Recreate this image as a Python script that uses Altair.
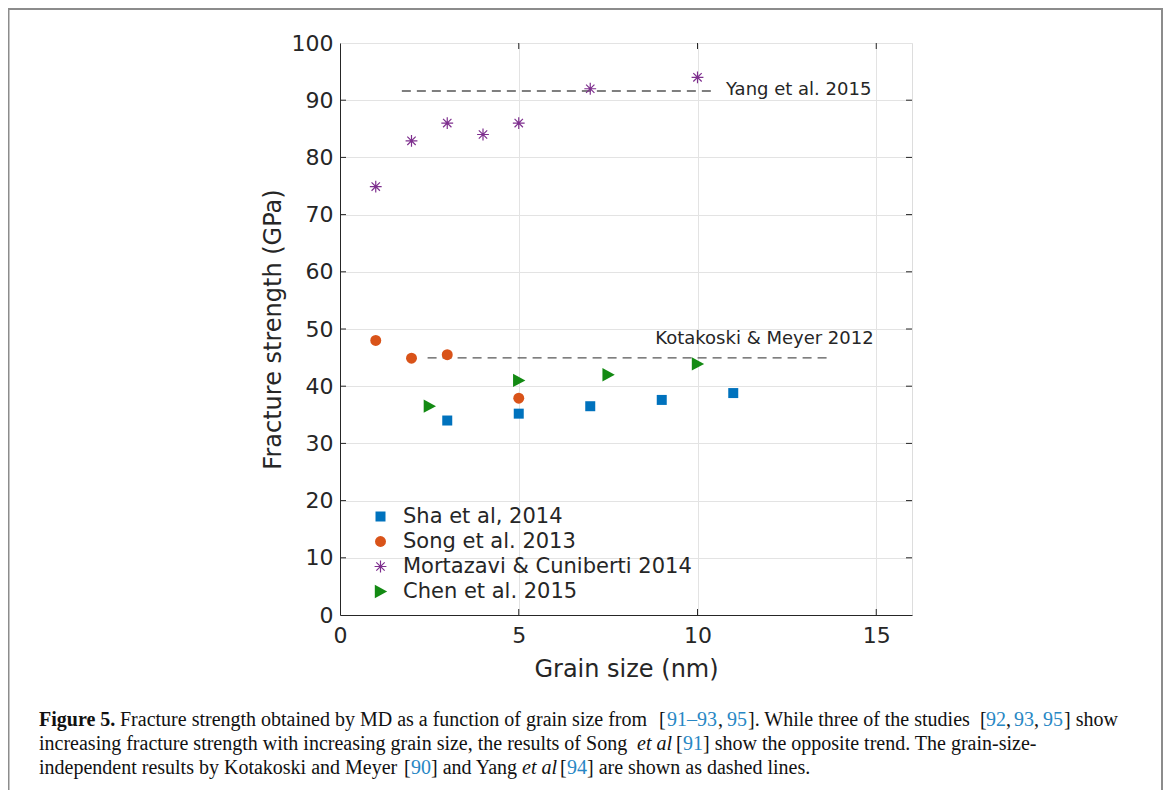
import altair as alt
import pandas as pd

# ---------------- data ----------------
sha_x = [3, 5, 7, 9, 11]
sha_y = [34.0, 35.2, 36.5, 37.6, 38.8]
song_x = [1, 2, 3, 5]
song_y = [48.0, 44.9, 45.5, 37.9]
mort_x = [1, 2, 3, 4, 5, 7, 10]
mort_y = [74.9, 82.9, 86.0, 84.0, 86.0, 92.0, 94.0]
chen_x = [2.5, 5, 7.5, 10]
chen_y = [36.5, 41.0, 42.0, 43.9]

series_names = ["Sha et al, 2014", "Song et al. 2013",
                "Mortazavi & Cuniberti 2014", "Chen et al. 2015"]
series_colors = ["#0072BD", "#D95319", "#7E2F8E", "#138A13"]

ref_names = ["Yang et al. 2015", "Kotakoski & Meyer 2012"]
ref_start = [1.73, 2.45]
ref_end = [10.45, 13.75]
ref_value = [91.6, 44.95]
ref_label_x = [10.8, 8.82]
ref_label_y = [91.8, 48.3]

x_ticks = [0, 5, 10, 15]
y_ticks = [0, 10, 20, 30, 40, 50, 60, 70, 80, 90, 100]

x_title = "Grain size (nm)"
y_title = "Fracture strength (GPa)"

# ---------------- layout ----------------
W, H = 572, 572
PLOT_LEFT, PLOT_TOP = 340, 43          # page coordinates of plot origin
PAD_L, PAD_T = PLOT_LEFT - 8, PLOT_TOP - 8
CANVAS_W, CANVAS_H = 1155, 782
PAD_R = CANVAS_W - PAD_L - W
PAD_B = CANVAS_H - PAD_T - H

AX = "#262626"
SANS = "DejaVu Sans"
SERIF = "Liberation Serif"

xscale = alt.Scale(domain=[0, 16], nice=False, zero=False)
yscale = alt.Scale(domain=[0, 100], nice=False, zero=False)

x_axis = alt.Axis(values=x_ticks, title=x_title, grid=True, gridColor="#e3e3e3",
                  domainColor=AX, ticks=False, labelFont=SANS, labelFontSize=22,
                  labelColor=AX, labelPadding=10, labelFlush=False, labelOverlap=False,
                  titleFont=SANS, titleFontSize=24,
                  titleFontWeight="normal", titleColor=AX, titlePadding=11)
y_axis = alt.Axis(values=y_ticks, title=y_title, grid=True, gridColor="#e3e3e3",
                  domainColor=AX, ticks=False, labelFont=SANS, labelFontSize=22,
                  labelColor=AX, labelPadding=7, labelFlush=False, labelOverlap=False,
                  titleFont=SANS, titleFontSize=24,
                  titleFontWeight="normal", titleColor=AX, titlePadding=6)


def X(field):
    return alt.X(field, type="quantitative", scale=xscale, axis=x_axis)


def Y(field):
    return alt.Y(field, type="quantitative", scale=yscale, axis=y_axis)


asterisk = ("M-1,-0.1L1,-0.1L1,0.1L-1,0.1Z"
            "M-0.1,-1L0.1,-1L0.1,1L-0.1,1Z"
            "M-0.636,-0.778L0.778,0.636L0.636,0.778L-0.778,-0.636Z"
            "M-0.778,0.636L0.636,-0.778L0.778,-0.636L-0.636,0.778Z")
tri_right = "M-0.9,-1.05L1.05,0L-0.9,1.05Z"
series_shapes = ["square", "circle", asterisk, tri_right]
series_sizes = [100, 160, 150, 125]

rows = []
for name, xs, ys in zip(series_names, [sha_x, song_x, mort_x, chen_x],
                        [sha_y, song_y, mort_y, chen_y]):
    for a, b in zip(xs, ys):
        rows.append({"series": name, "x": a, "y": b})
pts_df = pd.DataFrame(rows)

ref_df = pd.DataFrame({"name": ref_names, "x": ref_start, "x2": ref_end,
                       "y": ref_value, "lx": ref_label_x, "ly": ref_label_y})

points = alt.Chart(pts_df).mark_point(filled=True, opacity=1, strokeWidth=0).encode(
    x=X("x"),
    y=Y("y"),
    color=alt.Color("series:N", scale=alt.Scale(domain=series_names, range=series_colors),
                    legend=alt.Legend(orient="none", legendX=30, legendY=463, title=None,
                                      labelFont=SANS, labelFontSize=21, labelColor=AX,
                                      labelOffset=12, labelLimit=600, symbolSize=100,
                                      rowPadding=3, padding=0, symbolStrokeWidth=0)),
    shape=alt.Shape("series:N", scale=alt.Scale(domain=series_names, range=series_shapes)),
    size=alt.Size("series:N", scale=alt.Scale(domain=series_names, range=series_sizes),
                  legend=None),
)

ref_lines = alt.Chart(ref_df).mark_rule(color="#555555", strokeWidth=1.4, strokeDash=[9, 6]).encode(
    x=X("x"), x2="x2:Q", y=Y("y"))

ref_text = alt.Chart(ref_df).mark_text(align="left", baseline="middle", font=SANS,
                                       fontSize=18, color=AX).encode(
    x=X("lx"), y=Y("ly"), text="name:N")

TL = 6
yt_df = pd.DataFrame({"t": y_ticks[1:-1]})
xt_df = pd.DataFrame({"t": x_ticks[1:]})
tick_layers = [
    alt.Chart(yt_df).mark_rule(color=AX).encode(
        y=Y("t"), x=alt.value(0), x2=alt.value(TL)),
    alt.Chart(yt_df).mark_rule(color=AX).encode(
        y=Y("t"), x=alt.value(W - TL), x2=alt.value(W)),
    alt.Chart(xt_df).mark_rule(color=AX).encode(
        x=X("t"), y=alt.value(H - TL), y2=alt.value(H)),
    alt.Chart(xt_df).mark_rule(color=AX).encode(
        x=X("t"), y=alt.value(0), y2=alt.value(TL)),
]

one = pd.DataFrame({"a": [0]})
frame = alt.Chart(one).mark_rect(fillOpacity=0, stroke="#8c8c8c", strokeWidth=2).encode(
    x=alt.value(8.5 - PLOT_LEFT), x2=alt.value(1162 - PLOT_LEFT),
    y=alt.value(9 - PLOT_TOP), y2=alt.value(820 - PLOT_TOP))

# ---------------- caption ----------------
BLUE = "#2787c4"
line_y = [726, 750, 774]
caption = [
    ("Figure 5.", 39, 0, "b"),
    ("Fracture strength obtained by MD as a function of grain size from", 120, 0, "n"),
    ("[", 659, 0, "n"), ("91–93", 667, 0, "c"), (",", 718, 0, "n"), ("95", 727, 0, "c"),
    ("]. While three of the studies", 748, 0, "n"),
    ("[", 980, 0, "n"), ("92", 986, 0, "c"), (",", 1006, 0, "n"), ("93", 1014, 0, "c"),
    (",", 1034, 0, "n"), ("95", 1043, 0, "c"), ("] show", 1064, 0, "n"),
    ("increasing fracture strength with increasing grain size, the results of Song", 39, 1, "n"),
    ("et al", 637, 1, "i"), ("[", 676, 1, "n"), ("91", 683, 1, "c"),
    ("] show the opposite trend. The grain-size-", 703, 1, "n"),
    ("independent results by Kotakoski and Meyer", 39, 2, "n"), ("[", 404, 2, "n"),
    ("90", 411, 2, "c"), ("] and Yang", 431, 2, "n"), ("et al", 522, 2, "i"),
    ("[", 560, 2, "n"), ("94", 567, 2, "c"), ("] are shown as dashed lines.", 587, 2, "n"),
]
cap_layers = []
for txt, px, li, st in caption:
    kw = dict(align="left", baseline="alphabetic", font=SERIF, fontSize=20,
              color=BLUE if st == "c" else "#111111")
    if st == "b":
        kw["fontWeight"] = "bold"
    if st == "i":
        kw["fontStyle"] = "italic"
    cap_layers.append(alt.Chart(one).mark_text(**kw).encode(
        x=alt.value(px - PLOT_LEFT), y=alt.value(line_y[li] - PLOT_TOP), text=alt.value(txt)))

chart = alt.layer(frame, ref_lines, *tick_layers, points, ref_text, *cap_layers).properties(
    width=W, height=H,
    autosize=alt.AutoSizeParams(type="none"),
    padding={"left": PAD_L, "top": PAD_T, "right": PAD_R, "bottom": PAD_B},
).configure_view(stroke=AX, strokeWidth=1).configure(background="white")

chart.save("out.html", embed_options={"renderer": "svg", "actions": False})
